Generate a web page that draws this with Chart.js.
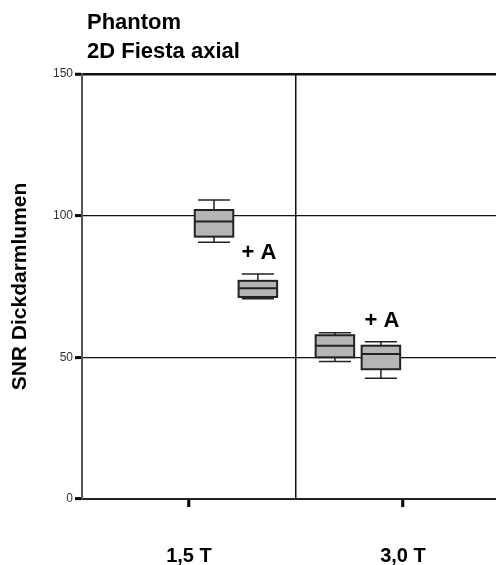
<!DOCTYPE html>
<html>
<head>
<meta charset="utf-8">
<script src="https://cdn.jsdelivr.net/npm/chart.js@4.4.1/dist/chart.umd.min.js"></script>
<style>
    html, body { margin: 0; padding: 0; background: #fff; }
    #wrap { width: 496px; height: 565px; position: relative; }
</style>
</head>
<body>
<div id="wrap"><canvas id="snrChart"></canvas></div>
<script>
// Data
const categories = ['1,5 T', '3,0 T'];
const titleLines = ['Phantom', '2D Fiesta axial'];
const yTitle = 'SNR Dickdarmlumen';
const yTicks = [0, 50, 100, 150];

const boxLabels = ['', '+ A', '', '+ A'];
const mins    = [90.6, 70.7, 48.5, 42.6];
const q1s     = [92.6, 71.3, 50.0, 45.8];
const medians = [97.9, 74.4, 54.1, 51.2];
const q3s     = [102.0, 77.0, 57.8, 54.1];
const maxs    = [105.5, 79.4, 58.7, 55.5];

// Layout (x in category units: category i spans i..i+1)
const BOX_X = [0.617, 0.822, 1.182, 1.397];
const BOX_W = 0.18;
const CAP_W = 0.075;
const FONT = '"Liberation Sans", Arial, sans-serif';

const boxPlugin = {
    id: 'boxes',
    afterDatasetsDraw(chart) {
        const ctx = chart.ctx;
        const x = chart.scales.x, y = chart.scales.y;
        ctx.save();
        medians.forEach((med, i) => {
            const cx = x.getPixelForValue(BOX_X[i]);
            const l = x.getPixelForValue(BOX_X[i] - BOX_W / 2);
            const r = x.getPixelForValue(BOX_X[i] + BOX_W / 2);
            const cl = x.getPixelForValue(BOX_X[i] - CAP_W);
            const cr = x.getPixelForValue(BOX_X[i] + CAP_W);
            const yMin = y.getPixelForValue(mins[i]);
            const yQ1 = y.getPixelForValue(q1s[i]);
            const yMed = y.getPixelForValue(med);
            const yQ3 = y.getPixelForValue(q3s[i]);
            const yMax = y.getPixelForValue(maxs[i]);

            ctx.strokeStyle = '#222';
            ctx.lineWidth = 1.5;
            // whiskers
            ctx.beginPath();
            ctx.moveTo(cx, yQ3); ctx.lineTo(cx, yMax);
            ctx.moveTo(cl, yMax); ctx.lineTo(cr, yMax);
            ctx.moveTo(cx, yQ1); ctx.lineTo(cx, yMin);
            ctx.moveTo(cl, yMin); ctx.lineTo(cr, yMin);
            ctx.stroke();
            // box
            ctx.fillStyle = '#b5b5b5';
            ctx.fillRect(l, yQ3, r - l, yQ1 - yQ3);
            ctx.lineWidth = 2;
            ctx.strokeRect(l, yQ3, r - l, yQ1 - yQ3);
            // median
            ctx.beginPath();
            ctx.moveTo(l, yMed); ctx.lineTo(r, yMed);
            ctx.stroke();

            if (boxLabels[i]) {
                ctx.fillStyle = '#000';
                ctx.font = 'bold 22px ' + FONT;
                ctx.textAlign = 'center';
                ctx.textBaseline = 'alphabetic';
                ctx.fillText(boxLabels[i], cx + 1, yMax - 15);
            }
        });
        ctx.restore();
    },
    afterDraw(chart) {
        const ctx = chart.ctx;
        ctx.save();
        ctx.fillStyle = '#000';
        ctx.font = 'bold 22px ' + FONT;
        ctx.textAlign = 'left';
        ctx.textBaseline = 'alphabetic';
        titleLines.forEach((t, i) => ctx.fillText(t, chart.chartArea.left + 5, 29 + i * 29));
        ctx.restore();
    }
};

new Chart(document.getElementById('snrChart'), {
    type: 'scatter',
    data: {
        datasets: [{
            data: medians.map((m, i) => ({ x: BOX_X[i], y: m })),
            pointRadius: 0,
            pointHoverRadius: 0
        }]
    },
    options: {
        responsive: true,
        maintainAspectRatio: false,
        animation: false,
        events: [],
        layout: { padding: { top: 74, left: 0, right: 0, bottom: 0 } },
        plugins: { legend: { display: false }, tooltip: { enabled: false } },
        scales: {
            x: {
                type: 'linear',
                min: 0,
                max: 1.935,
                afterBuildTicks: (s) => { s.ticks = [0.5, 1, 1.5].map(v => ({ value: v })); },
                afterFit: (s) => { s.height = 66; },
                border: { color: '#222', width: 2 },
                grid: {
                    color: (c) => c.tick && c.tick.value === 1 ? '#111' : 'rgba(0,0,0,0)',
                    tickColor: (c) => c.tick && c.tick.value === 1 ? 'rgba(0,0,0,0)' : '#000',
                    lineWidth: 1.5,
                    tickWidth: 3,
                    tickLength: 8
                },
                ticks: {
                    padding: 37,
                    color: '#000',
                    maxRotation: 0,
                    font: { family: FONT, size: 20, weight: 'bold' },
                    callback: (v) => v === 0.5 ? categories[0] : (v === 1.5 ? categories[1] : '')
                }
            },
            y: {
                min: 0,
                max: 150,
                afterBuildTicks: (s) => { s.ticks = yTicks.map(v => ({ value: v })); },
                afterFit: (s) => { s.width = 82; },
                border: { color: '#555', width: 2 },
                grid: {
                    color: (c) => c.tick && c.tick.value === 0 ? 'rgba(0,0,0,0)' : '#111',
                    lineWidth: (c) => c.tick && c.tick.value === 150 ? 2.5 : 1.2,
                    tickColor: '#000',
                    tickWidth: 3,
                    tickLength: 7
                },
                ticks: {
                    padding: 2,
                    color: '#333',
                    font: { family: FONT, size: 12 }
                },
                title: {
                    display: true,
                    text: yTitle,
                    color: '#000',
                    font: { family: FONT, size: 21, weight: 'bold' },
                    padding: { top: 8, bottom: 0 }
                }
            }
        }
    },
    plugins: [boxPlugin]
});
</script>
</body>
</html>
